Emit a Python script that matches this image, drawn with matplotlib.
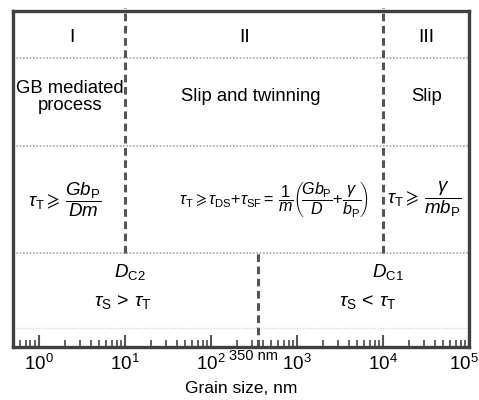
import matplotlib
matplotlib.use("Agg")
import matplotlib.pyplot as plt

plt.rcParams['font.family'] = ['Liberation Sans', 'DejaVu Sans']
plt.rcParams['mathtext.fontset'] = 'custom'
plt.rcParams['mathtext.rm'] = 'Liberation Sans'
plt.rcParams['mathtext.it'] = 'Liberation Sans:italic'
plt.rcParams['mathtext.bf'] = 'Liberation Sans:bold'

# grain-size boundaries (nm)
d_c2 = 10
d_c1 = 1e4
d_mid = 350
x_range = [0.5, 1e5]
decades = [1, 10, 100, 1e3, 1e4, 1e5]
decade_labels = [r'$10^{%d}$' % i for i in range(6)]

# horizontal row separators (fraction of plot height)
rows = [0.86, 0.598, 0.28]
faint_row = 0.056

regions = ['I', 'II', 'III']
mechanisms = ['GB mediated\nprocess', 'Slip and twinning', 'Slip']
criteria = [
    r'$\tau_{\rm T}{\geqslant}\,\dfrac{Gb_{\rm P}}{Dm}$',
    r'$\tau_{\rm T}{\geqslant}\tau_{\rm DS}{+}\tau_{\rm SF}{=}\,\dfrac{1}{m}\left(\!\dfrac{Gb_{\rm P}}{D}{+}\dfrac{\gamma}{b_{\rm P}}\!\right)$',
    r'$\tau_{\rm T}{\geqslant}\,\dfrac{\gamma}{mb_{\rm P}}$',
]
label_x = [2.4, 250, 3.2e4]
text_x = [2.3, 290, 3.2e4]
formula_x = [2.0, 540, 3.0e4]
formula_size = [13.5, 11.6, 13.5]

fig = plt.figure(figsize=(4.79, 4.0), dpi=100)
ax = fig.add_axes([0.027, 0.1325, 0.952, 0.84])
ax.set_xscale('log')
ax.set_xlim(*x_range)
ax.set_ylim(0, 1)

edge = '#404040'
for s in ax.spines.values():
    s.set_linewidth(2.4)
    s.set_color(edge)

for y in rows:
    ax.axhline(y, color='#a8a8a8', lw=1.2, ls=(0, (1, 1)), zorder=1)
ax.axhline(faint_row, color='#dddddd', lw=1.0, ls=(0, (1, 1)), zorder=1)

dash = (0, (2.5, 1.5))
ax.plot([d_c2, d_c2], [rows[2], 1.01], color='#555555', lw=2.2, ls=dash, zorder=2, clip_on=False)
ax.plot([d_c1, d_c1], [rows[2], 1.01], color='#555555', lw=2.2, ls=dash, zorder=2, clip_on=False)
ax.plot([d_mid, d_mid], [0, rows[2]], color='#555555', lw=2.2, ls=dash, zorder=2)

for i in range(3):
    ax.text(label_x[i], 0.92, regions[i], ha='center', va='center', fontsize=14)
    ax.text(text_x[i], 0.745, mechanisms[i], ha='center', va='center', fontsize=13.3, linespacing=1.0)
    ax.text(formula_x[i], 0.44, criteria[i], ha='center', va='center', fontsize=formula_size[i])

ax.text(d_c2 * 1.15, 0.222, r'$D_{\rm C2}$', ha='center', va='center', fontsize=13.5)
ax.text(d_c2 * 0.95, 0.135, r'$\tau_{\rm S}\,{>}\,\tau_{\rm T}$', ha='center', va='center', fontsize=14)
ax.text(d_c1 * 1.15, 0.222, r'$D_{\rm C1}$', ha='center', va='center', fontsize=13.5)
ax.text(d_c1 * 0.67, 0.135, r'$\tau_{\rm S}\,{<}\,\tau_{\rm T}$', ha='center', va='center', fontsize=14)

ax.text(d_mid * 0.9, -0.005, '350 nm', ha='center', va='top', fontsize=10.5)

ax.set_yticks([])
# last decade label is placed by hand so it stays inside the figure
ax.set_xticks(decades, labels=decade_labels[:-1] + [''])
ax.annotate(decade_labels[-1], xy=(decades[-1], 0), xycoords=('data', 'axes fraction'),
            xytext=(-4, -5), textcoords='offset points', ha='center', va='top', fontsize=13.5)
ax.tick_params(axis='x', which='major', direction='in', length=9, width=1.5,
               color='#555555', labelsize=13.5, pad=5)
ax.tick_params(axis='x', which='minor', direction='in', length=5, width=1.3,
               color='#555555')
ax.set_xlabel('Grain size, nm', fontsize=12.5, labelpad=5)

fig.savefig('out.png', dpi=100)
